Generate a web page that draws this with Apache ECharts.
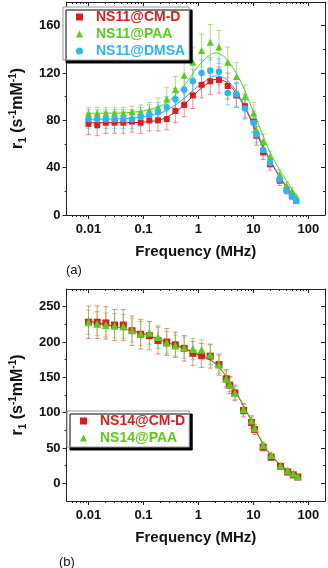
<!DOCTYPE html>
<html>
<head>
<meta charset="utf-8">
<script src="https://cdn.jsdelivr.net/npm/echarts@6/dist/echarts.min.js"></script>
<style>
  html, body { margin: 0; padding: 0; background: #fff; }
  #chart { width: 328px; height: 568px; }
</style>
</head>
<body>
<div id="chart"></div>
<script>
// ---- panel (a): NS11 samples, r1 vs Larmor frequency (MHz)
var freqA = [0.01, 0.0144, 0.0207, 0.0298, 0.043, 0.062, 0.089, 0.128, 0.184, 0.265, 0.38, 0.55, 0.79, 1.14, 1.64, 2.36, 3.4, 4.9, 7.0, 10.1, 11.3, 15, 20, 30, 40, 50, 60];
var cmdA = [77, 76, 78, 78, 78, 79, 78, 80, 80, 81, 88, 93, 101, 110, 113, 114, 109, 101, 92, 79, 67, 53, 43, 29, 21, 16, 12];
var cmdAErr = [9, 9, 9, 9, 9, 9, 9, 9, 9, 9, 10, 10, 11, 11, 11, 11, 11, 10, 10, 9, 8, 6, 5, 4, 3, 3, 2];
var paaA = [86, 86, 86, 86, 86, 87, 87, 88, 91, 98, 106, 118, 129, 139, 146, 142, 129, 117, 100, 86, 72, 62, 49, 34, 25, 20, 15];
var paaAErr = [5, 5, 5, 5, 5, 5, 6, 7, 8, 10, 11, 12, 13, 14, 15, 14, 13, 12, 10, 9, 7, 6, 5, 4, 3, 3, 2];
var dmsaA = [81, 81, 81, 81, 81, 81, 83, 85, 87, 91, 98, 106, 113, 120, 122, 121, 103, 102, 90, 78, 68, 55, 44, 30, 21, 16, 12];
var dmsaAErr = [8, 8, 8, 8, 8, 8, 8, 8, 8, 9, 9, 10, 10, 11, 11, 11, 10, 10, 9, 8, 7, 5, 4, 3, 3, 2, 2];

var fitFreq = [0.01, 0.02, 0.05, 0.1, 0.2, 0.3, 0.5, 0.7, 1, 1.5, 2, 3, 4, 5, 7, 10, 15, 20, 30, 40, 50, 64];
var fitCmdA = [78, 78, 78, 78.5, 80.5, 84, 91, 98, 105, 111.5, 114.5, 113, 108, 102, 91, 75, 57, 46, 32, 23, 17, 12];
var fitPaaA = [86, 86, 86.5, 88, 92, 97, 107, 116, 126, 134, 137, 133.5, 126, 119, 105, 87, 67, 53, 38, 29, 22, 15];
var fitDmsaA = [81, 81, 81.5, 83, 86, 90, 97, 103, 109, 115, 117.5, 115.5, 110, 104, 92, 77, 59, 47, 33, 24, 18, 12];

// ---- panel (b): NS14 samples
var freqB = [0.01, 0.0144, 0.0207, 0.0298, 0.043, 0.062, 0.089, 0.128, 0.184, 0.265, 0.38, 0.55, 0.79, 1.14, 1.64, 2.36, 3.2, 3.7, 4.6, 6.6, 9.2, 10.5, 15, 21, 31, 42, 53, 64];
var cmdB = [228, 228, 227, 224, 224, 216, 211, 209, 202, 200, 196, 191, 184, 181, 180, 168, 148, 139, 128, 103, 86, 76, 51, 37, 24, 16, 12, 9];
var cmdBErr = [23, 23, 23, 22, 22, 21, 21, 20, 19, 19, 18, 18, 17, 17, 17, 15, 13, 12, 11, 9, 8, 7, 5, 4, 3, 2, 2, 2];
var paaB = [228, 226, 224, 223, 222, 217, 212, 213, 207, 199, 195, 192, 190, 189, 182, 168, 148, 140, 128, 105, 89, 78, 54, 40, 25, 18, 14, 10];
var paaBErr = [17, 17, 17, 17, 17, 17, 17, 16, 16, 16, 15, 15, 15, 14, 14, 13, 11, 10, 9, 8, 7, 6, 4, 3, 3, 2, 2, 2];
var fitCmdB = [230, 225, 218, 211, 203, 198, 192, 187, 182, 176, 170, 154, 138, 126, 106, 82, 55, 41, 27, 19, 14, 9];
var fitPaaB = [228, 224, 218, 212, 204, 199, 193, 188, 183, 177, 170, 155, 139, 127, 107, 83, 56, 42, 28, 20, 15, 10];

// tick labels
var xMajor = [0.01, 0.1, 1, 10, 100];
var yMajorA = [0, 40, 80, 120, 160];
var yMinorA = [20, 60, 100, 140];
var yMajorB = [0, 50, 100, 150, 200, 250];
var yMinorB = [25, 75, 125, 175, 225];

var xMinor = [];
[0.001, 0.01, 0.1, 1, 10, 100].forEach(function (d) {
  for (var k = 2; k <= 9; k++) {
    var v = +(k * d).toPrecision(3);
    if (v > 0.004 && v < 200) xMinor.push(v);
  }
});

var RED = "#dc1d1d", GREEN = "#5ccb1c", BLUE = "#2cb6f0";
var FONT = "'Liberation Sans', Arial, sans-serif";
var axisColor = "#222";

function pairs(xs, ys) {
  return xs.map(function (x, i) { return [x, ys[i]]; });
}
function bars(xs, ys, err) {
  return xs.map(function (x, i) { return [x, ys[i] - err[i], ys[i] + err[i]]; });
}

function errSeries(g, data, color) {
  return {
    type: "custom",
    xAxisIndex: g * 4,
    yAxisIndex: g * 4,
    encode: { x: 0, y: [1, 2] },
    data: data,
    z: 1,
    renderItem: function (params, api) {
      var x = api.value(0);
      var top = api.coord([x, api.value(2)]);
      var bot = api.coord([x, api.value(1)]);
      var w = 2.5;
      var st = { stroke: color, lineWidth: 1 };
      return {
        type: "group",
        children: [
          { type: "line", shape: { x1: top[0], y1: top[1], x2: bot[0], y2: bot[1] }, style: st },
          { type: "line", shape: { x1: top[0] - w, y1: top[1], x2: top[0] + w, y2: top[1] }, style: st },
          { type: "line", shape: { x1: bot[0] - w, y1: bot[1], x2: bot[0] + w, y2: bot[1] }, style: st },
        ],
      };
    },
  };
}

function fitSeries(g, data, color) {
  return {
    type: "line",
    xAxisIndex: g * 4,
    yAxisIndex: g * 4,
    data: data,
    smooth: 0.35,
    showSymbol: false,
    lineStyle: { color: color, width: 1 },
    z: 2,
  };
}

function dotSeries(g, name, data, symbol, size, color) {
  return {
    name: name,
    type: "scatter",
    xAxisIndex: g * 4,
    yAxisIndex: g * 4,
    data: data,
    symbol: symbol,
    symbolSize: size,
    itemStyle: { color: color, opacity: 1 },
    z: 3,
  };
}

function xAxes(g) {
  var line = { color: axisColor, width: 1 };
  var base = {
    type: "log",
    gridIndex: g,
    min: 0.004,
    max: 200,
    splitLine: { show: false },
    axisLabel: { show: false },
    axisLine: { show: false, onZero: false },
  };
  return [
    Object.assign({}, base, {
      position: "bottom",
      axisLine: { show: true, onZero: false, lineStyle: line },
      axisTick: { customValues: xMajor, length: 4, lineStyle: line },
      axisLabel: {
        show: true,
        customValues: xMajor,
        margin: 8,
        color: "#111",
        fontFamily: FONT,
        fontSize: 13,
        fontWeight: "bold",
        formatter: function (v) { return String(v); },
      },
      name: "Frequency (MHz)",
      nameLocation: "middle",
      nameGap: 29,
      nameTextStyle: { color: "#111", fontFamily: FONT, fontSize: 15, fontWeight: "bold" },
    }),
    Object.assign({}, base, {
      position: "bottom",
      axisTick: { customValues: xMinor, length: 2, lineStyle: line },
    }),
    Object.assign({}, base, {
      position: "top",
      axisLine: { show: true, onZero: false, lineStyle: line },
      axisTick: { inside: true, customValues: xMajor, length: 4, lineStyle: line },
    }),
    Object.assign({}, base, {
      position: "top",
      axisTick: { inside: true, customValues: xMinor, length: 2, lineStyle: line },
    }),
  ];
}

function yAxes(g, min, max, major, minor) {
  var line = { color: axisColor, width: 1 };
  var base = {
    type: "value",
    gridIndex: g,
    min: min,
    max: max,
    splitLine: { show: false },
    axisLabel: { show: false },
    axisLine: { show: false, onZero: false },
  };
  return [
    Object.assign({}, base, {
      position: "left",
      axisLine: { show: true, onZero: false, lineStyle: line },
      axisTick: { customValues: major, length: 4, lineStyle: line },
      axisLabel: {
        show: true,
        customValues: major,
        margin: 6,
        color: "#111",
        fontFamily: FONT,
        fontSize: 13,
        fontWeight: "bold",
      },
      name: "{b|r}{sub|1}{b| (s}{sup|-1}{b|mM}{sup|-1}{b|)}",
      nameLocation: "middle",
      nameRotate: 90,
      nameGap: 31,
      nameTextStyle: {
        color: "#111",
        fontFamily: FONT,
        rich: {
          b: { fontSize: 16, fontWeight: "bold", fontFamily: FONT, color: "#111", lineHeight: 20 },
          sup: { fontSize: 10, fontWeight: "bold", fontFamily: FONT, color: "#111", verticalAlign: "top", lineHeight: 11 },
          sub: { fontSize: 10, fontWeight: "bold", fontFamily: FONT, color: "#111", verticalAlign: "bottom", lineHeight: 11 },
        },
      },
    }),
    Object.assign({}, base, {
      position: "left",
      axisTick: { customValues: minor, length: 2, lineStyle: line },
    }),
    Object.assign({}, base, {
      position: "right",
      axisLine: { show: true, onZero: false, lineStyle: line },
      axisTick: { inside: true, customValues: major, length: 4, lineStyle: line },
    }),
    Object.assign({}, base, {
      position: "right",
      axisTick: { inside: true, customValues: minor, length: 2, lineStyle: line },
    }),
  ];
}

function legendBox(top, left, items) {
  return {
    orient: "vertical",
    left: left,
    top: top,
    itemWidth: 7,
    itemHeight: 7,
    itemGap: 3,
    padding: [3, 4, 2, 13],
    backgroundColor: "#fff",
    borderColor: "#999",
    borderWidth: 1,
    borderRadius: 0,
    shadowColor: "#000",
    shadowBlur: 0,
    shadowOffsetX: 3,
    shadowOffsetY: 3,
    selectedMode: false,
    textStyle: { fontFamily: FONT, fontSize: 14, fontWeight: "bold", lineHeight: 13, padding: [0, 0, 0, 8] },
    data: items.map(function (it) {
      return { name: it[0], icon: it[1], itemStyle: { color: it[2] }, textStyle: { color: it[2] } };
    }),
  };
}

var myechart = echarts.init(document.getElementById("chart"), null, { renderer: "canvas" });

var option = {
  animation: false,
  backgroundColor: "#fff",
  grid: [
    { left: 61, right: 3, top: 2, height: 213 },
    { left: 61, right: 3, top: 289, height: 212 },
  ],
  xAxis: xAxes(0).concat(xAxes(1)),
  yAxis: yAxes(0, 0, 180, yMajorA, yMinorA).concat(yAxes(1, -25, 275, yMajorB, yMinorB)),
  legend: [
    legendBox(7, 63, [["NS11@CM-D", "rect", RED], ["NS11@PAA", "triangle", GREEN], ["NS11@DMSA", "circle", BLUE]]),
    legendBox(411, 67, [["NS14@CM-D", "rect", RED], ["NS14@PAA", "triangle", GREEN]]),
  ],
  title: [
    { text: "(a)", left: 61, top: 259, textStyle: { fontFamily: FONT, fontSize: 13, fontWeight: "normal", color: "#111" } },
    { text: "(b)", left: 54, top: 551, textStyle: { fontFamily: FONT, fontSize: 13, fontWeight: "normal", color: "#111" } },
  ],
  series: [
    errSeries(0, bars(freqA, cmdA, cmdAErr), "rgba(225,50,50,0.55)"),
    errSeries(0, bars(freqA, paaA, paaAErr), "rgba(100,200,40,0.55)"),
    errSeries(0, bars(freqA, dmsaA, dmsaAErr), "rgba(50,180,240,0.55)"),
    fitSeries(0, pairs(fitFreq, fitCmdA), "#c81414"),
    fitSeries(0, pairs(fitFreq, fitPaaA), "#5fc62a"),
    fitSeries(0, pairs(fitFreq, fitDmsaA), "#2ea8e0"),
    dotSeries(0, "NS11@CM-D", pairs(freqA, cmdA), "rect", 6, RED),
    dotSeries(0, "NS11@PAA", pairs(freqA, paaA), "triangle", 7, GREEN),
    dotSeries(0, "NS11@DMSA", pairs(freqA, dmsaA), "circle", 6.5, BLUE),

    errSeries(1, bars(freqB, cmdB, cmdBErr), "rgba(225,50,50,0.55)"),
    errSeries(1, bars(freqB, paaB, paaBErr), "rgba(100,200,40,0.6)"),
    fitSeries(1, pairs(fitFreq, fitCmdB), "#c81414"),
    fitSeries(1, pairs(fitFreq, fitPaaB), "#5fc62a"),
    dotSeries(1, "NS14@CM-D", pairs(freqB, cmdB), "rect", 7, RED),
    dotSeries(1, "NS14@PAA", pairs(freqB, paaB), "triangle", 8, GREEN),
  ],
};

myechart.setOption(option);
window.addEventListener("resize", function () {
  myechart.resize();
});
</script>
</body>
</html>
